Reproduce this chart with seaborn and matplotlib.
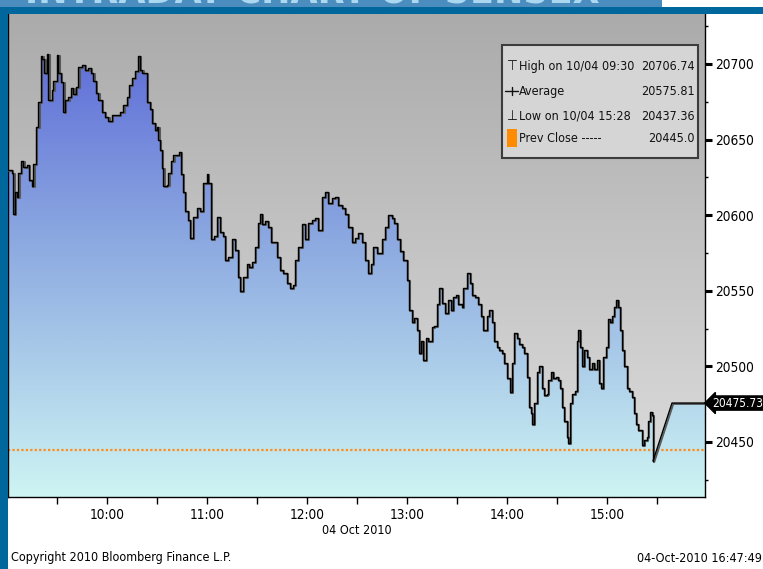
import numpy as np
import matplotlib
matplotlib.use("Agg")
import matplotlib.pyplot as plt
import matplotlib.transforms as mtransforms
import matplotlib.font_manager as fm
from matplotlib.patches import Rectangle
from matplotlib.lines import Line2D
import seaborn as sns

# ---------------- data ----------------
# minutes after 09:00
minutes = [
    0.6, 2.8, 3.8, 4.8, 5.8, 6.8, 8.4, 9.8, 11.8, 13.2,
    14.8, 15.8, 17.2, 18.8, 20.2, 21.2, 22.4, 23.8, 24.8, 26.8,
    27.8, 29.8, 30.8, 32.4, 33.8, 34.8, 36.8, 38.4, 39.8, 41.2,
    42.8, 44.8, 46.8, 48.8, 50.4, 51.8, 53.2, 54.8, 56.8, 58.8,
    60.8, 62.8, 64.8, 66.8, 67.8, 69.8, 71.8, 73.2, 74.8, 76.8,
    78.4, 79.8, 81.2, 82.8, 83.8, 85.8, 86.8, 88.8, 89.8, 90.8,
    91.8, 92.8, 93.8, 95.8, 96.8, 98.2, 99.8, 101.8, 103.2, 104.4,
    105.6, 106.8, 108.6, 109.8, 111.6, 114.0, 115.8, 117.6, 120.0, 120.6,
    122.4, 124.2, 126.0, 127.8, 129.6, 130.8, 132.6, 135.0, 136.8, 138.6,
    139.8, 141.6, 144.0, 145.2, 147.0, 148.8, 150.6, 151.8, 153.0, 154.8,
    156.6, 158.4, 160.2, 162.0, 163.8, 165.6, 168.0, 169.8, 171.6, 172.8,
    174.6, 177.0, 178.8, 180.6, 183.0, 184.8, 186.6, 189.0, 190.8, 192.6,
    195.0, 196.8, 198.6, 201.0, 202.8, 204.6, 207.0, 208.8, 210.6, 213.0,
    214.8, 216.6, 218.4, 219.6, 222.0, 223.8, 225.0, 226.8, 228.6, 231.0,
    232.2, 234.0, 235.8, 237.6, 240.0, 241.2, 243.0, 244.2, 246.0, 247.2,
    248.4, 249.6, 251.4, 252.6, 255.0, 256.2, 258.0, 259.2, 261.0, 262.8,
    264.6, 266.4, 267.6, 269.4, 270.6, 273.0, 273.6, 276.0, 277.8, 279.0,
    280.8, 282.6, 284.4, 285.6, 288.0, 289.2, 291.0, 292.2, 294.0, 295.2,
    297.0, 298.2, 300.0, 301.8, 303.0, 304.2, 306.0, 307.2, 309.0, 310.2,
    312.0, 313.2, 314.4, 315.0, 316.2, 318.0, 319.2, 321.0, 322.2, 324.0,
    324.6, 326.4, 327.6, 329.4, 330.6, 331.8, 333.0, 334.2, 336.0, 336.6,
    337.8, 339.0, 340.8, 342.0, 342.6, 343.8, 345.0, 346.2, 348.0, 349.2,
    351.0, 352.2, 354.0, 355.2, 356.4, 357.6, 359.4, 360.6, 361.8, 363.0,
    364.2, 365.4, 366.6, 367.8, 369.0, 370.2, 372.0, 373.2, 375.0, 376.2,
    377.4, 378.6, 379.8, 381.0, 382.2, 384.0, 384.6, 385.8, 387.0, 387.6,
]
prices = [
    20630, 20628, 20601, 20615, 20612, 20628, 20636, 20632, 20633, 20623,
    20619, 20634, 20658, 20675, 20705, 20703, 20694, 20706.74, 20676, 20683,
    20689, 20706, 20694, 20688, 20668, 20676, 20678, 20684, 20680, 20685,
    20698, 20699, 20696, 20697, 20694, 20689, 20681, 20676, 20668, 20665,
    20662, 20666, 20666, 20666, 20668, 20673, 20678, 20686, 20691, 20695,
    20705, 20696, 20694, 20694, 20675, 20670, 20661, 20656, 20658, 20650,
    20643, 20631, 20619, 20620, 20628, 20636, 20640, 20640, 20642, 20627,
    20615, 20603, 20597, 20585, 20599, 20605, 20603, 20621, 20627, 20621,
    20584, 20586, 20599, 20589, 20586, 20570, 20572, 20584, 20577, 20559,
    20550, 20559, 20568, 20566, 20569, 20579, 20595, 20601, 20594, 20596,
    20592, 20582, 20582, 20572, 20564, 20562, 20555, 20552, 20554, 20570,
    20579, 20594, 20584, 20595, 20597, 20598, 20590, 20612, 20615, 20608,
    20611, 20612, 20607, 20605, 20601, 20592, 20582, 20585, 20588, 20582,
    20570, 20562, 20568, 20579, 20575, 20575, 20584, 20592, 20600, 20598,
    20595, 20584, 20576, 20570, 20557, 20537, 20529, 20532, 20524, 20509,
    20517, 20504, 20519, 20517, 20526, 20527, 20541, 20552, 20542, 20535,
    20544, 20537, 20546, 20547, 20541, 20539, 20552, 20562, 20555, 20547,
    20546, 20541, 20533, 20524, 20533, 20537, 20529, 20517, 20513, 20511,
    20509, 20502, 20492, 20483, 20502, 20522, 20519, 20515, 20513, 20509,
    20493, 20473, 20469, 20462, 20476, 20496, 20500, 20486, 20481, 20482,
    20491, 20496, 20492, 20493, 20491, 20486, 20473, 20464, 20453, 20449,
    20476, 20482, 20484, 20517, 20524, 20513, 20500, 20511, 20506, 20498,
    20502, 20498, 20504, 20489, 20486, 20506, 20513, 20531, 20529, 20533,
    20539, 20544, 20539, 20524, 20511, 20500, 20486, 20484, 20480, 20469,
    20462, 20458, 20458, 20448, 20451, 20453, 20464, 20470, 20468, 20437.36,
]
tail_minutes = [387.6, 399.0, 418.8]
tail_prices = [20437.36, 20475.73, 20475.73]
prev_close = 20445.0
last_price = 20475.73

x_tick_minutes = [60, 120, 180, 240, 300, 360]
x_tick_labels = ["10:00", "11:00", "12:00", "13:00", "14:00", "15:00"]
x_minor_minutes = [30, 90, 150, 210, 270, 330, 390]
y_ticks = [20450, 20500, 20550, 20600, 20650, 20700]
y_minor_ticks = [20425, 20475, 20525, 20575, 20625, 20675, 20725]

legend_labels = ["High on 10/04 09:30", "Average", "Low on 10/04 15:28", "Prev Close -----"]
legend_values = ["20706.74", "20575.81", "20437.36", "20445.0"]

# ---------------- style ----------------
sns.set_style("white")

# find a narrow font if one is installed
narrow = None
for f in fm.fontManager.ttflist:
    fn = f.fname.lower()
    if ('narrow' in fn or 'condensed' in fn) and 'bold' not in fn and 'oblique' not in fn \
            and 'italic' not in fn and 'light' not in fn:
        narrow = f
        break
if narrow is not None:
    plt.rcParams['font.family'] = [narrow.name, 'DejaVu Sans']
    plt.rcParams['font.stretch'] = narrow.stretch
    FS, FL, FT, FF = 9.8, 9.0, 8.6, 9.0
else:
    plt.rcParams['font.family'] = ['Liberation Sans', 'DejaVu Sans']
    FS, FL, FT, FF = 9.0, 8.4, 8.0, 8.4

W, H = 763, 569
fig = plt.figure(figsize=(W / 100, H / 100), dpi=100, facecolor='white')

def fx(x):
    return x / W

def fy(y):
    return 1 - y / H

PL, PR, PT, PB = 8, 705, 14, 497
ax = fig.add_axes([fx(PL), fy(PB), fx(PR) - fx(PL), fy(PT) - fy(PB)])

XMIN, XMAX = 0.6, 418.8
YMIN, YMAX = 20413.6, 20733.0
extent = (XMIN, XMAX, YMIN, YMAX)

# background gray gradient
t = np.linspace(0, 1, 256)[:, None]
top_g, bot_g = np.array([171, 171, 171]), np.array([222, 222, 222])
gray = (top_g + (bot_g - top_g) * t[..., None]) / 255.0
gray = np.repeat(gray, 2, axis=1)
ax.imshow(gray, extent=extent, aspect='auto', origin='upper', zorder=0, interpolation='bilinear')

# blue gradient for the area fill
stops = [(0.0, (86, 98, 214)), (0.45, (138, 166, 224)), (1.0, (206, 244, 243))]
tt = np.linspace(0, 1, 256)
blue = np.zeros((256, 2, 3))
for c in range(3):
    col = np.interp(tt, [s[0] for s in stops], [s[1][c] for s in stops]) / 255.0
    blue[:, :, c] = col[:, None]

poly_main = ax.fill_between(minutes, prices, YMIN, step='post', facecolor='none', lw=0)
poly_tail = ax.fill_between(tail_minutes, tail_prices, YMIN, facecolor='none', lw=0)
for poly in (poly_main, poly_tail):
    im = ax.imshow(blue, extent=extent, aspect='auto', origin='upper', zorder=1, interpolation='bilinear')
    im.set_clip_path(poly.get_paths()[0], transform=ax.transData)

# prev close dotted line
ax.axhline(prev_close, color='#ff8c1a', lw=1.6, linestyle=(0, (1, 1)), zorder=2)

# shadow line
shadow = mtransforms.offset_copy(ax.transData, fig=fig, x=1.3, y=-1.0, units='dots')
ax.plot(minutes, prices, drawstyle='steps-post', color='#5a5a5a', lw=1.5, zorder=3, transform=shadow)
ax.plot(tail_minutes, tail_prices, color='#5a5a5a', lw=1.3, zorder=3, transform=shadow)

# main line
sns.lineplot(x=minutes, y=prices, estimator=None, sort=False, drawstyle='steps-post',
             color='black', linewidth=1.0, ax=ax, zorder=4)
sns.lineplot(x=tail_minutes, y=tail_prices, estimator=None, sort=False,
             color='black', linewidth=1.0, ax=ax, zorder=4)

ax.set_xlim(XMIN, XMAX)
ax.set_ylim(YMIN, YMAX)
ax.set_xlabel('')
ax.set_ylabel('')

ax.set_xticks(x_tick_minutes)
ax.set_xticklabels(x_tick_labels)
ax.set_xticks(x_minor_minutes, minor=True)
ax.yaxis.tick_right()
ax.set_yticks(y_ticks)
ax.set_yticklabels([str(v) for v in y_ticks])
ax.set_yticks(y_minor_ticks, minor=True)
ax.tick_params(axis='x', which='both', direction='out', length=5, width=1, color='black',
               labelsize=FS, pad=3, bottom=True, labelcolor='black')
ax.tick_params(axis='y', which='major', direction='out', length=5, width=2.2, color='black',
               labelsize=FS, pad=2, right=True, left=False, labelcolor='black')
ax.tick_params(axis='y', which='minor', direction='out', length=2, width=1, color='black',
               right=True, left=False)
for s in ['left', 'bottom', 'right']:
    ax.spines[s].set_visible(True)
    ax.spines[s].set_color('black')
    ax.spines[s].set_linewidth(1.0)
ax.spines['top'].set_visible(False)
ax.grid(False)

# last price tag
blend = mtransforms.blended_transform_factory(ax.transAxes, ax.transData)
tag_tr = mtransforms.offset_copy(blend, fig=fig, x=7, y=0, units='dots')
ax.text(1.0, last_price, f"{last_price:.2f}", transform=tag_tr, ha='left', va='center',
        fontsize=FT, color='white', clip_on=False, zorder=10,
        bbox=dict(boxstyle='larrow,pad=0.05', fc='black', ec='black'))

# ---------------- frame decorations ----------------
fig.add_artist(Rectangle((0, 0), fx(PL), 1, transform=fig.transFigure,
                         facecolor='#00679c', edgecolor='none', zorder=1))
fig.add_artist(Rectangle((0, fy(14)), 1, 7 / H, transform=fig.transFigure,
                         facecolor='#00679c', edgecolor='none', zorder=1))
banner = Rectangle((0, fy(7)), fx(662), 7 / H, transform=fig.transFigure,
                   facecolor='#4b8dbf', edgecolor='none', zorder=1)
fig.add_artist(banner)
ttl = fig.text(fx(600), fy(4), "INTRADAY CHART OF SENSEX", ha='right', va='baseline',
               fontsize=28, fontweight='bold', color='#a9d8f0', family='DejaVu Sans', zorder=2)
ttl.set_clip_on(True)
ttl.set_clip_path(banner)

# legend panel
fig.add_artist(Rectangle((fx(502), fy(158)), fx(698) - fx(502), (158 - 45) / H,
                         transform=fig.transFigure, facecolor='#d5d5d5', edgecolor='#3c3c3c',
                         lw=1.5, zorder=5))
rows_y = [66, 91, 116, 139]
for lab, val, ry in zip(legend_labels, legend_values, rows_y):
    fig.text(fx(519), fy(ry), lab, ha='left', va='center', fontsize=FL, color='#111111', zorder=6)
    fig.text(fx(695), fy(ry), val, ha='right', va='center', fontsize=FL, color='#111111', zorder=6)
fig.text(fx(512), fy(66), "\u22a4", ha='center', va='center', fontsize=10, color='#111111',
         family='DejaVu Sans', zorder=6)
fig.text(fx(512), fy(116), "\u22a5", ha='center', va='center', fontsize=10, color='#111111',
         family='DejaVu Sans', zorder=6)
fig.add_artist(Line2D([fx(505), fx(518)], [fy(91), fy(91)], transform=fig.transFigure,
                      color='#111111', lw=1.0, zorder=6))
fig.add_artist(Line2D([fx(511.5), fx(511.5)], [fy(87), fy(95)], transform=fig.transFigure,
                      color='#111111', lw=1.0, zorder=6))
fig.add_artist(Rectangle((fx(507), fy(147)), fx(10), 18 / H, transform=fig.transFigure,
                         facecolor='#ff8c00', edgecolor='none', zorder=6))

# footer texts
fig.text(fx(357), fy(531), "04 Oct 2010", ha='center', va='center', fontsize=FF, color='black')
fig.text(fx(11), fy(558), "Copyright 2010 Bloomberg Finance L.P.", ha='left', va='center',
         fontsize=FF, color='black')
fig.text(fx(762), fy(558), "04-Oct-2010 16:47:49", ha='right', va='center',
         fontsize=FF, color='black')

fig.savefig("out.png", dpi=100, facecolor='white')
